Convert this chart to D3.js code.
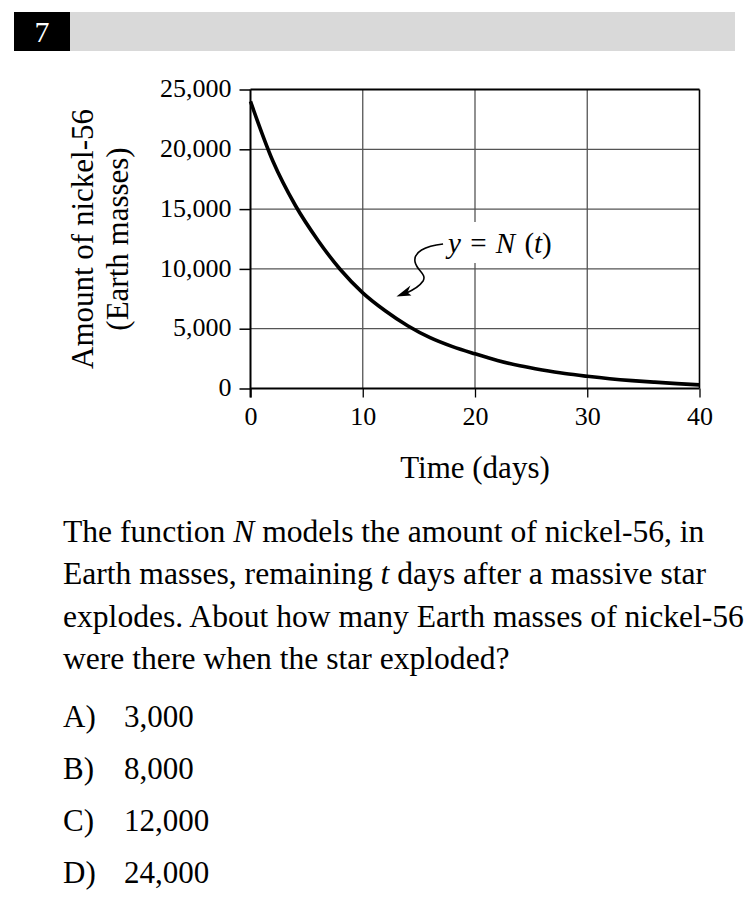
<!DOCTYPE html>
<html>
<head>
<meta charset="utf-8">
<script src="https://cdn.jsdelivr.net/npm/d3@7"></script>
<style>
  html, body { margin: 0; padding: 0; background: #fff; }
  svg { display: block; }
  text { font-family: "Liberation Serif", "DejaVu Serif", serif; fill: #000; }
</style>
</head>
<body>
<svg id="chart" width="753" height="908"></svg>
<script>
// ---- data ----
const days   = [0, 2, 4, 6, 8, 10, 12, 14, 16, 18, 20, 22, 24, 26, 28, 30, 32, 34, 36, 38, 40];
const nickel = [24000, 19000, 15300, 12400, 9950, 8000, 6500, 5250, 4250, 3500, 2900, 2350, 1900, 1550, 1250, 1020, 820, 660, 530, 410, 300];
const xTicks = [0, 10, 20, 30, 40];
const yTicks = [0, 5000, 10000, 15000, 20000, 25000];
const questionNumber = "7";
const yTitleLines = ["Amount of nickel-56", "(Earth masses)"];
const xTitle = "Time (days)";
const choices = [["A)", "3,000"], ["B)", "8,000"], ["C)", "12,000"], ["D)", "24,000"]];
// annotation anchor (data units)
const annTip  = { t: 13.0, v: 7700 };
const annText = { t: 17.6, v: 11330 };

const svg = d3.select("#chart");

// ---- header bar ----
svg.append("rect").attr("x", 70).attr("y", 12).attr("width", 665).attr("height", 39).attr("fill", "#d9d9d9");
svg.append("rect").attr("x", 14).attr("y", 12).attr("width", 56).attr("height", 39).attr("fill", "#000");
svg.append("text").attr("x", 42).attr("y", 42).attr("text-anchor", "middle")
  .attr("font-size", 30).style("fill", "#fff").text(questionNumber);

// ---- chart ----
const x = d3.scaleLinear().domain([0, 40]).range([250.5, 699.5]);
const y = d3.scaleLinear().domain([0, 25000]).range([388.5, 89.5]);

const g = svg.append("g");

// grid lines
g.selectAll(".vgrid").data(xTicks.filter(d => d > 0 && d < 40)).enter().append("line")
  .attr("x1", d => x(d)).attr("x2", d => x(d)).attr("y1", y(0)).attr("y2", y(25000))
  .attr("stroke", "#555").attr("stroke-width", 1.3);
g.selectAll(".hgrid").data(yTicks.filter(d => d > 0 && d < 25000)).enter().append("line")
  .attr("x1", x(0)).attr("x2", x(40)).attr("y1", d => y(d)).attr("y2", d => y(d))
  .attr("stroke", "#555").attr("stroke-width", 1.3);

// annotation label background (knocks out grid behind the label)
const tx = x(annText.t), ty = y(annText.v);
const ax = x(annTip.t), ay = y(annTip.v);
const labBg = g.append("rect").attr("fill", "#fff");

// border top and right
g.append("line").attr("x1", x(0)).attr("x2", x(40)).attr("y1", y(25000)).attr("y2", y(25000))
  .attr("stroke", "#000").attr("stroke-width", 1.8);
g.append("line").attr("x1", x(40)).attr("x2", x(40)).attr("y1", y(25000)).attr("y2", y(0))
  .attr("stroke", "#000").attr("stroke-width", 1.6);

// axes
const fmt = d3.format(",");
const yAxis = d3.axisLeft(y).tickValues(yTicks).tickFormat(fmt).tickSize(11).tickPadding(8);
const xAxis = d3.axisBottom(x).tickValues(xTicks).tickFormat(d3.format("d")).tickSize(9).tickPadding(9);

const ya = g.append("g").attr("transform", `translate(${x(0)},0)`).call(yAxis);
ya.select(".domain").attr("stroke", "#000").attr("stroke-width", 2).attr("d", `M0,${y(25000)}V${y(0) + 9}`);
ya.selectAll(".tick line").attr("stroke", "#000").attr("stroke-width", 1.5);
ya.selectAll(".tick text").attr("font-size", 26).attr("dy", "0.28em")
  .style("font-family", '"Liberation Serif", serif').style("fill", "#000");

const xa = g.append("g").attr("transform", `translate(0,${y(0)})`).call(xAxis);
xa.select(".domain").attr("stroke", "#000").attr("stroke-width", 2).attr("d", `M${x(0)},0H${x(40)}`);
xa.selectAll(".tick line").attr("stroke", "#000").attr("stroke-width", 1.3);
xa.selectAll(".tick text").attr("font-size", 26).attr("dy", "0.72em")
  .style("font-family", '"Liberation Serif", serif').style("fill", "#000");

// curve
const pts = days.map((d, i) => [d, nickel[i]]);
const line = d3.line().x(d => x(d[0])).y(d => y(d[1])).curve(d3.curveMonotoneX);
g.append("path").datum(pts).attr("d", line).attr("fill", "none")
  .attr("stroke", "#000").attr("stroke-width", 3.6).attr("stroke-linecap", "butt");

// axis titles
yTitleLines.forEach((s, i) => {
  svg.append("text").attr("font-size", 31).attr("text-anchor", "middle")
    .attr("transform", `translate(${93 + i * 35},${(y(0) + y(25000)) / 2}) rotate(-90)`)
    .text(s);
});
svg.append("text").attr("x", (x(0) + x(40)) / 2).attr("y", 478).attr("text-anchor", "middle")
  .attr("font-size", 31).text(xTitle);

// annotation: y = N (t) with squiggly arrow
const lab = svg.append("text").attr("x", tx).attr("y", ty).attr("font-size", 29)
  .style("word-spacing", "2px");
lab.append("tspan").style("font-style", "italic").text("y");
lab.append("tspan").text(" = ");
lab.append("tspan").style("font-style", "italic").text("N");
lab.append("tspan").text(" (");
lab.append("tspan").style("font-style", "italic").text("t");
lab.append("tspan").text(")");
const bb = lab.node().getBBox();
labBg.attr("x", bb.x - 4).attr("y", ty - 31).attr("width", bb.width + 8).attr("height", 41);

const sx = tx - 5, sy = ty - 9;
const arrowPath = d3.path();
arrowPath.moveTo(sx, sy);
arrowPath.bezierCurveTo(sx - 18, sy + 2, sx - 30, sy + 8, sx - 28, sy + 18);
arrowPath.bezierCurveTo(sx - 26, sy + 27, sx - 16, sy + 30, sx - 20, sy + 37);
arrowPath.bezierCurveTo(sx - 24, sy + 43, ax + 16, ay - 6, ax + 9, ay - 3);
svg.append("path").attr("d", arrowPath.toString()).attr("fill", "none")
  .attr("stroke", "#000").attr("stroke-width", 1.6);
svg.append("path")
  .attr("d", `M${ax},${ay} L${ax + 14},${ay - 11} L${ax + 11},${ay - 4} L${ax + 15},${ay - 1} Z`)
  .attr("fill", "#000");

// ---- question text ----
const q = svg.append("g").attr("font-size", 31.6);
const l1 = q.append("text").attr("x", 63).attr("y", 542);
l1.append("tspan").text("The function ");
l1.append("tspan").style("font-style", "italic").text("N");
l1.append("tspan").text(" models the amount of nickel-56, in");
const l2 = q.append("text").attr("x", 63).attr("y", 584);
l2.append("tspan").text("Earth masses, remaining ");
l2.append("tspan").style("font-style", "italic").text("t");
l2.append("tspan").text(" days after a massive star");
q.append("text").attr("x", 63).attr("y", 627).text("explodes. About how many Earth masses of nickel-56");
q.append("text").attr("x", 63).attr("y", 669).text("were there when the star exploded?");

choices.forEach((c, i) => {
  const yy = 727 + i * 52;
  q.append("text").attr("x", 63).attr("y", yy).attr("font-size", 31).text(c[0]);
  q.append("text").attr("x", 124).attr("y", yy).attr("font-size", 31).text(c[1]);
});
</script>
</body>
</html>
